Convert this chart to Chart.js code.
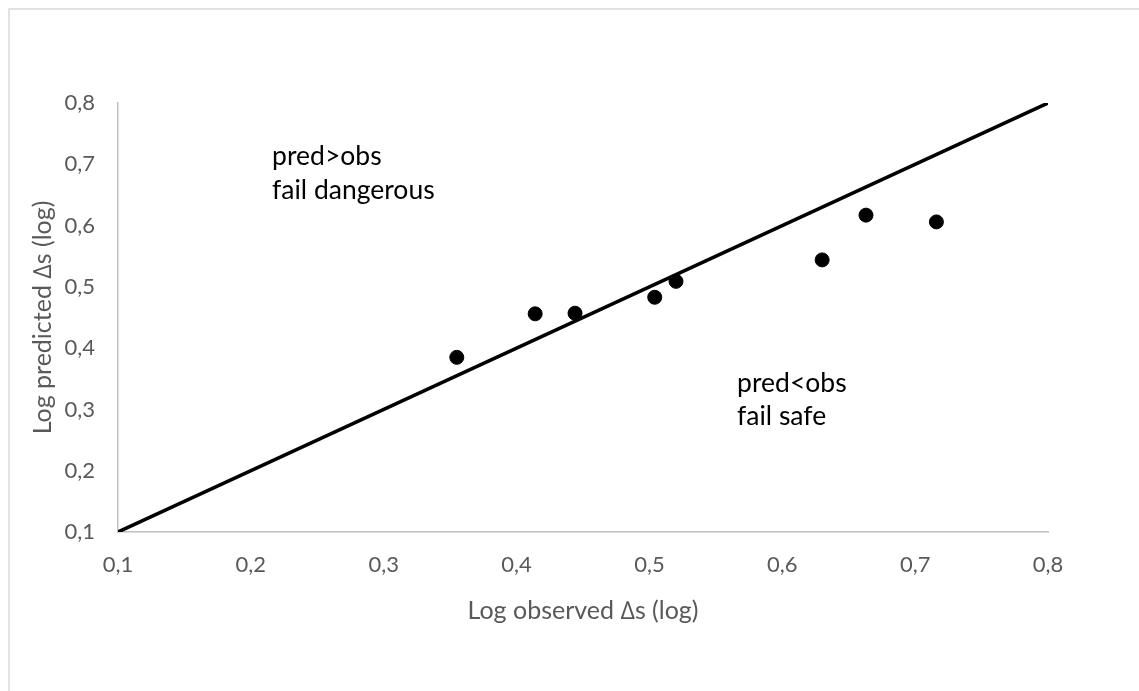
<!DOCTYPE html>
<html>
<head>
<meta charset="utf-8">
<script src="https://cdn.jsdelivr.net/npm/chart.js@4"></script>
<style>
  body { margin: 0; background: #fff; }
  #wrap { width: 1139px; height: 691px; position: relative; }
</style>
</head>
<body>
<div id="wrap"><canvas id="chart" width="1139" height="691"></canvas></div>
<script>
// observed vs predicted (log)
const observed = [0.355, 0.414, 0.444, 0.504, 0.520, 0.630, 0.663, 0.716];
const predicted = [0.385, 0.456, 0.457, 0.483, 0.509, 0.544, 0.617, 0.606];
const equalityLine = [0.1, 0.8];
const tickValues = [0.1, 0.2, 0.3, 0.4, 0.5, 0.6, 0.7, 0.8];
const tickLabels = ['0,1', '0,2', '0,3', '0,4', '0,5', '0,6', '0,7', '0,8'];

const notes = [
  { x: 0.216, y: 0.712, text: 'pred>obs' },
  { x: 0.216, y: 0.658, text: 'fail dangerous' },
  { x: 0.566, y: 0.343, text: 'pred<obs' },
  { x: 0.566, y: 0.289, text: 'fail safe' }
];

const FONT = 'Lato, "Open Sans", sans-serif';

const frame = {
  id: 'frame',
  beforeDraw(chart) {
    const c = chart.ctx;
    c.save();
    c.strokeStyle = '#d9d9d9';
    c.lineWidth = 1.5;
    c.beginPath();
    c.moveTo(9, 691);
    c.lineTo(9, 9);
    c.lineTo(1139, 9);
    c.stroke();
    c.restore();
  }
};

const noteLabels = {
  id: 'noteLabels',
  afterDatasetsDraw(chart) {
    const c = chart.ctx;
    const xs = chart.scales.x, ys = chart.scales.y;
    c.save();
    c.fillStyle = '#000';
    c.font = '26.5px ' + FONT;
    c.textAlign = 'left';
    c.textBaseline = 'middle';
    notes.forEach(n => c.fillText(n.text, xs.getPixelForValue(n.x), ys.getPixelForValue(n.y)));
    c.restore();
  }
};

const axisOpts = (title, tickPad, titlePad, fit) => ({
  type: 'linear',
  min: 0.1,
  max: 0.8,
  afterBuildTicks: axis => { axis.ticks = tickValues.map(v => ({ value: v })); },
  afterFit: fit,
  grid: { display: false, drawTicks: false },
  border: { display: true, color: '#bfbfbf', width: 1.5 },
  ticks: {
    color: '#595959',
    font: { family: FONT, size: 22 },
    padding: tickPad,
    callback: (v) => tickLabels[tickValues.findIndex(t => Math.abs(t - v) < 1e-6)]
  },
  title: {
    display: true,
    text: title,
    color: '#595959',
    font: { family: FONT, size: 25 },
    padding: titlePad
  }
});

new Chart(document.getElementById('chart'), {
  data: {
    datasets: [
      {
        type: 'scatter',
        data: observed.map((x, i) => ({ x: x, y: predicted[i] })),
        backgroundColor: '#000',
        borderColor: '#000',
        pointRadius: 7,
        pointHoverRadius: 7
      },
      {
        type: 'line',
        data: equalityLine.map(v => ({ x: v, y: v })),
        borderColor: '#000',
        borderWidth: 3.5,
        pointRadius: 0,
        fill: false
      }
    ]
  },
  options: {
    responsive: false,
    animation: false,
    layout: { padding: { left: 21, right: 91, top: 103, bottom: 65 } },
    plugins: { legend: { display: false }, tooltip: { enabled: false } },
    scales: {
      x: axisOpts('Log observed \u2206s (log)', 20, { top: 17, bottom: 0 }, a => { a.height = 94; }),
      y: axisOpts('Log predicted \u2206s (log)', 23, { top: 7, bottom: 7 }, a => { a.width = 97; })
    }
  },
  plugins: [frame, noteLabels]
});
</script>
</body>
</html>
